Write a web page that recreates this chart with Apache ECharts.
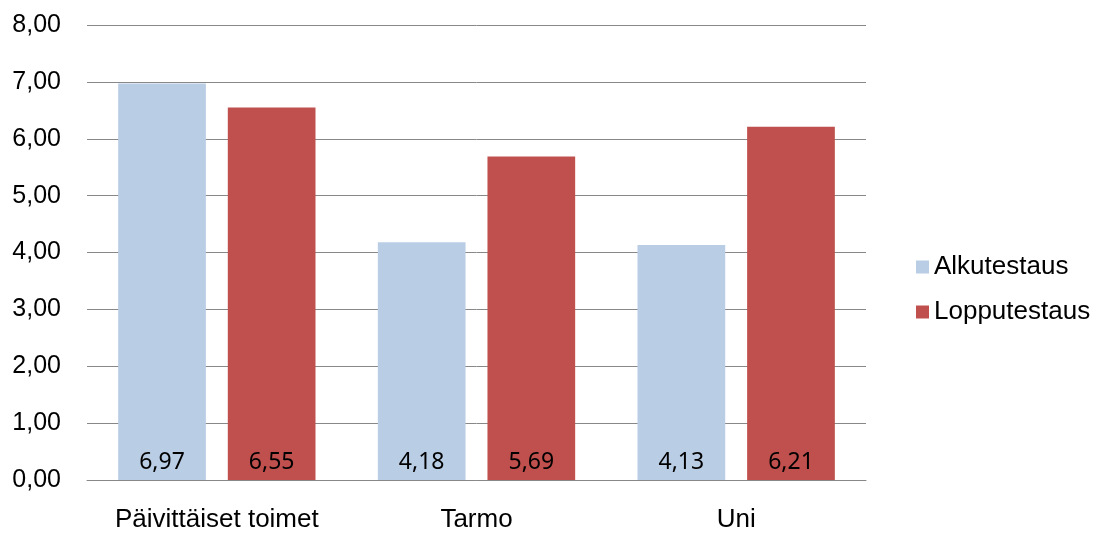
<!DOCTYPE html>
<html>
<head>
<meta charset="utf-8">
<script src="https://cdn.jsdelivr.net/npm/echarts@6/dist/echarts.min.js"></script>
<style>
  html, body { margin: 0; padding: 0; background: #fff; }
  #chart { width: 1098px; height: 536px; }
</style>
</head>
<body>
<div id="chart"></div>
<script>
var categories = ['Päivittäiset toimet', 'Tarmo', 'Uni'];
var alkuData = [6.97, 4.18, 4.13];
var loppuData = [6.55, 5.69, 6.21];

var chart = echarts.init(document.getElementById('chart'));

function fmt(p) {
  return p.value.toFixed(2).replace('.', ',');
}

var labelStyle = {
  show: true,
  position: 'insideBottom',
  distance: 6,
  color: '#000',
  fontFamily: 'Noto Sans',
  fontSize: 23,
  formatter: fmt
};

var option = {
  animation: false,
  grid: { left: 87, right: 232, top: 25, bottom: 56 },
  legend: {
    orient: 'vertical',
    left: 911,
    top: 249,
    itemWidth: 13,
    itemHeight: 13,
    itemGap: 19,
    icon: 'rect',
    textStyle: { fontFamily: 'Liberation Sans', fontSize: 26, color: '#000' },
    data: ['Alkutestaus', 'Lopputestaus']
  },
  xAxis: {
    type: 'category',
    data: categories,
    axisLine: { lineStyle: { color: '#888', width: 1 } },
    axisTick: { show: false },
    axisLabel: {
      interval: 0,
      hideOverlap: false,
      fontFamily: 'Liberation Sans', fontSize: 26, color: '#000', margin: 27
    }
  },
  yAxis: {
    type: 'value',
    min: 0,
    max: 8,
    interval: 1,
    axisLine: { show: false },
    axisTick: { show: false },
    splitLine: { lineStyle: { color: '#888', width: 1 } },
    axisLabel: {
      fontFamily: 'Liberation Sans', fontSize: 25, color: '#000', margin: 26,
      formatter: function (v) { return v.toFixed(2).replace('.', ','); }
    }
  },
  series: [
    {
      name: 'Alkutestaus',
      type: 'bar',
      data: alkuData,
      barGap: '25%',
      barCategoryGap: '24%',
      itemStyle: { color: '#b9cde5' },
      label: labelStyle
    },
    {
      name: 'Lopputestaus',
      type: 'bar',
      data: loppuData,
      itemStyle: { color: '#c0504d' },
      label: labelStyle
    }
  ]
};

chart.setOption(option);
</script>
</body>
</html>
